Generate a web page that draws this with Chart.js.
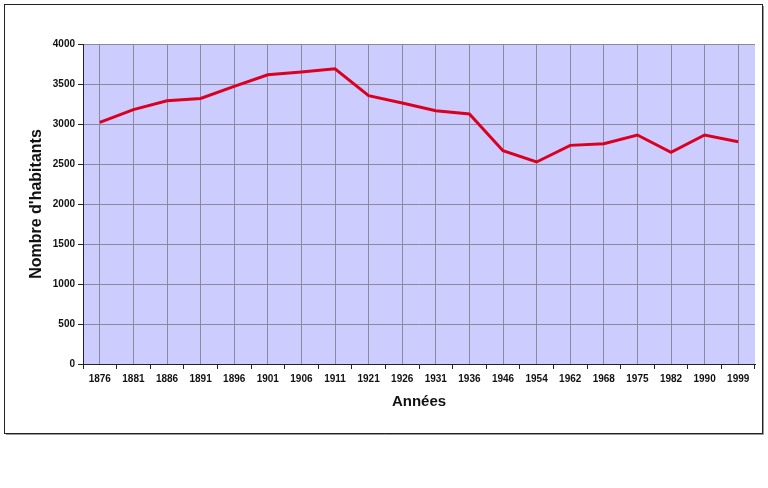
<!DOCTYPE html>
<html>
<head>
<meta charset="utf-8">
<script src="https://cdn.jsdelivr.net/npm/chart.js@4"></script>
<style>
  body { margin: 0; background: #fff; }
  canvas { display: block; }
</style>
</head>
<body>
<canvas id="chart" width="768" height="488"></canvas>
<script>
const ctx = document.getElementById("chart");

const years = ["1876", "1881", "1886", "1891", "1896", "1901", "1906", "1911", "1921", "1926",
  "1931", "1936", "1946", "1954", "1962", "1968", "1975", "1982", "1990", "1999"];
const population = [3020, 3180, 3290, 3320, 3470, 3615, 3650, 3690, 3355, 3262,
  3166, 3125, 2666, 2525, 2733, 2754, 2862, 2645, 2862, 2779];
const yTicks = [0, 500, 1000, 1500, 2000, 2500, 3000, 3500, 4000];

const tickFont = { family: "'Liberation Sans', Arial, sans-serif", size: 10, weight: "bold" };
const xTitleFont = { family: "'Liberation Sans', Arial, sans-serif", size: 15, weight: "bold" };
const yTitleFont = { family: "'Liberation Sans', Arial, sans-serif", size: 16, weight: "bold" };

// white page, outer frame and lilac plot area
const background = {
  id: "background",
  beforeDraw(chart) {
    const c = chart.ctx;
    const a = chart.chartArea;
    c.save();
    c.fillStyle = "#ffffff";
    c.fillRect(0, 0, chart.width, chart.height);
    c.strokeStyle = "#9a9a9a";
    c.lineWidth = 1;
    c.beginPath();
    c.moveTo(763.5, 6);
    c.lineTo(763.5, 434.5);
    c.lineTo(6, 434.5);
    c.stroke();
    c.strokeStyle = "#222222";
    c.strokeRect(4.5, 4.5, 758, 429);
    c.fillStyle = "#ccccff";
    c.fillRect(a.left, a.top, a.right - a.left, a.bottom - a.top);
    c.restore();
  },
};

new Chart(ctx, {
  type: "line",
  data: {
    labels: years,
    datasets: [
      {
        data: population,
        borderColor: "#dc0020",
        borderWidth: 3,
        pointRadius: 0,
        tension: 0,
        xAxisID: "x",
      },
    ],
  },
  options: {
    responsive: false,
    animation: false,
    devicePixelRatio: 1,
    layout: {
      padding: { top: 44, left: 0, right: 13, bottom: 0 },
    },
    scales: {
      x: {
        type: "category",
        position: "bottom",
        offset: true,
        afterFit: (scale) => { scale.height = 124; },
        grid: {
          offset: true,
          drawOnChartArea: false,
          drawTicks: true,
          tickLength: 5,
          tickColor: "#222222",
        },
        border: { display: true, color: "#222222", width: 1 },
        ticks: {
          autoSkip: false,
          maxRotation: 0,
          padding: 4,
          color: "#111111",
          font: tickFont,
        },
        title: {
          display: true,
          text: "Années",
          color: "#111111",
          font: xTitleFont,
          padding: { top: 0, bottom: 77 },
        },
      },
      x2: {
        type: "category",
        labels: years,
        position: "top",
        offset: true,
        afterFit: (scale) => { scale.height = 0; },
        grid: {
          offset: false,
          drawTicks: false,
          color: "#8a8a9a",
          lineWidth: 1,
        },
        border: { display: false },
        ticks: { display: false },
      },
      y: {
        min: 0,
        max: 4000,
        afterFit: (scale) => { scale.width = 83; },
        afterBuildTicks: (scale) => {
          scale.ticks = yTicks.map((v) => ({ value: v }));
        },
        grid: {
          color: "#8a8a9a",
          tickColor: "#222222",
          tickLength: 5,
        },
        border: { display: true, color: "#222222", width: 1 },
        ticks: {
          padding: 3,
          color: "#111111",
          font: tickFont,
          callback: (value) => String(value),
        },
        title: {
          display: true,
          text: "Nombre d'habitants",
          color: "#111111",
          font: yTitleFont,
          padding: { top: 27, bottom: 0 },
        },
      },
    },
    plugins: {
      legend: { display: false },
      tooltip: { enabled: false },
    },
  },
  plugins: [background],
});
</script>
</body>
</html>
